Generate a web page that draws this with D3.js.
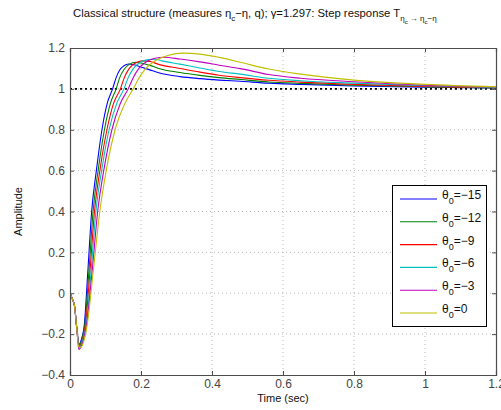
<!DOCTYPE html>
<html><head><meta charset="utf-8">
<script src="https://cdn.jsdelivr.net/npm/d3@7"></script>
<style>
body{margin:0;background:#fff;}
text{font-family:"Liberation Sans",Arial,sans-serif;}
</style></head>
<body><svg id="c" width="501" height="410"></svg>
<script>
// ---- data ----
const seriesLabels = ["-15","-12","-9","-6","-3","0"];
const seriesColors = ["#0000ff","#008000","#ff0000","#00bfbf","#bf00bf","#bfbf00"];
const xTicks = [0,0.2,0.4,0.6,0.8,1,1.2];
const yTicks = [-0.4,-0.2,0,0.2,0.4,0.6,0.8,1,1.2];
const startPts = [[0,0],[0.006,-0.025],[0.013,-0.065],[0.019,-0.17]];
const theta15 = [[0.026,-0.25],[0.033,-0.22],[0.04,-0.16],[0.05,0.10],[0.061,0.40],[0.075,0.61],[0.09,0.80],[0.105,0.93],[0.12,1.0],[0.13,1.055],[0.14,1.092],[0.152,1.113],[0.165,1.122],[0.18,1.118],[0.2,1.107],[0.225,1.093],[0.25,1.079],[0.31,1.06],[0.366,1.05],[0.42,1.043],[0.48,1.037],[0.56,1.028],[0.65,1.022],[0.8,1.014],[1.0,1.008],[1.2,1.004]];
const theta12 = [[0.026,-0.26],[0.034,-0.22],[0.042,-0.15],[0.053,0.10],[0.065,0.40],[0.08,0.61],[0.097,0.80],[0.114,0.93],[0.13,1.0],[0.14,1.055],[0.152,1.095],[0.167,1.12],[0.185,1.13],[0.2,1.127],[0.225,1.115],[0.25,1.10],[0.31,1.08],[0.366,1.066],[0.42,1.055],[0.48,1.046],[0.56,1.034],[0.65,1.027],[0.8,1.018],[1.0,1.01],[1.2,1.005]];
const theta9 = [[0.026,-0.265],[0.035,-0.23],[0.044,-0.15],[0.056,0.10],[0.069,0.40],[0.085,0.61],[0.104,0.80],[0.123,0.93],[0.142,1.0],[0.153,1.055],[0.166,1.098],[0.183,1.125],[0.205,1.137],[0.225,1.134],[0.25,1.12],[0.31,1.10],[0.366,1.082],[0.42,1.067],[0.48,1.055],[0.56,1.042],[0.65,1.033],[0.8,1.022],[1.0,1.012],[1.2,1.006]];
const theta6 = [[0.026,-0.27],[0.036,-0.23],[0.046,-0.15],[0.059,0.10],[0.073,0.40],[0.09,0.61],[0.11,0.80],[0.132,0.93],[0.152,1.0],[0.164,1.055],[0.178,1.098],[0.198,1.13],[0.22,1.143],[0.24,1.145],[0.26,1.137],[0.31,1.121],[0.366,1.102],[0.42,1.085],[0.48,1.072],[0.56,1.052],[0.65,1.04],[0.8,1.028],[1.0,1.015],[1.2,1.007]];
const theta3 = [[0.025,-0.275],[0.036,-0.24],[0.047,-0.15],[0.062,0.10],[0.078,0.40],[0.096,0.61],[0.118,0.80],[0.142,0.93],[0.164,1.0],[0.178,1.055],[0.193,1.098],[0.215,1.133],[0.24,1.15],[0.265,1.155],[0.31,1.146],[0.366,1.132],[0.42,1.116],[0.48,1.099],[0.56,1.07],[0.65,1.052],[0.8,1.035],[1.0,1.018],[1.2,1.009]];
const theta0 = [[0.024,-0.26],[0.03,-0.265],[0.037,-0.245],[0.048,-0.16],[0.065,0.10],[0.084,0.40],[0.103,0.61],[0.127,0.80],[0.155,0.93],[0.178,1.0],[0.195,1.055],[0.212,1.097],[0.24,1.138],[0.275,1.163],[0.32,1.175],[0.366,1.17],[0.42,1.154],[0.48,1.13],[0.56,1.097],[0.65,1.072],[0.8,1.043],[1.0,1.022],[1.2,1.01]];
const seriesData = [theta15,theta12,theta9,theta6,theta3,theta0];
const refLevel = 1;

// ---- layout ----
const L=70, R=496, T=48, B=375;
const svg=d3.select("#c");
const x=d3.scaleLinear().domain([0,1.2]).range([L,R]);
const y=d3.scaleLinear().domain([-0.4,1.2]).range([B,T]);
const axisCol="#4d4d4d";

// grid
const g=svg.append("g");
g.selectAll(".vg").data(xTicks.slice(1,-1)).join("line")
 .attr("x1",d=>x(d)).attr("x2",d=>x(d)).attr("y1",T).attr("y2",B)
 .attr("stroke","#9a9a9a").attr("stroke-width",0.7).attr("stroke-dasharray","1,3");
g.selectAll(".hg").data(yTicks.slice(1,-1)).join("line")
 .attr("y1",d=>y(d)).attr("y2",d=>y(d)).attr("x1",L).attr("x2",R)
 .attr("stroke","#9a9a9a").attr("stroke-width",0.7).attr("stroke-dasharray","1,3");

svg.append("clipPath").attr("id","clip").append("rect").attr("x",L).attr("y",T).attr("width",R-L).attr("height",B-T);

// reference line
svg.append("line").attr("x1",x(0)).attr("x2",x(1.2)).attr("y1",y(refLevel)).attr("y2",y(refLevel))
 .attr("stroke","#000").attr("stroke-width",1.6).attr("stroke-dasharray","2,3");

// curves
const line=d3.line().x(d=>x(d[0])).y(d=>y(d[1])).curve(d3.curveMonotoneX);
const cg=svg.append("g").attr("clip-path","url(#clip)");
seriesData.forEach((s,i)=>{
  cg.append("path").attr("d",line(startPts.concat(s))).attr("fill","none")
    .attr("stroke",seriesColors[i]).attr("stroke-width",1.1);
});

// axes
const ax=svg.append("g");
ax.append("g").attr("transform",`translate(0,${B})`)
 .call(d3.axisBottom(x).tickValues(xTicks).tickSize(-4).tickPadding(4).tickFormat(d3.format("~g")));
ax.append("g").attr("transform",`translate(0,${T})`)
 .call(d3.axisTop(x).tickValues(xTicks).tickSize(-4).tickFormat(""));
ax.append("g").attr("transform",`translate(${L},0)`)
 .call(d3.axisLeft(y).tickValues(yTicks).tickSize(-4).tickPadding(5).tickFormat(d=>d3.format("~g")(d).replace("-","\u2212")));
ax.append("g").attr("transform",`translate(${R},0)`)
 .call(d3.axisRight(y).tickValues(yTicks).tickSize(-4).tickFormat(""));
ax.selectAll(".domain").attr("stroke",axisCol).attr("stroke-width",1.2);
ax.selectAll(".tick line").attr("stroke",axisCol);
ax.selectAll(".tick text").attr("fill","#444").attr("font-size",12).attr("font-family","Liberation Sans, Arial, sans-serif");

// labels
svg.append("text").attr("x",(L+R)/2).attr("y",402).attr("text-anchor","middle").attr("font-size",11).attr("fill","#111").text("Time (sec)");
svg.append("text").attr("transform",`translate(22,${(T+B)/2}) rotate(-90)`).attr("text-anchor","middle").attr("font-size",11).attr("fill","#111").text("Amplitude");

// title
const tt=svg.append("text").attr("x",73).attr("y",17).attr("font-size",11.3).attr("fill","#111");
tt.append("tspan").text("Classical structure (measures \u03b7");
tt.append("tspan").attr("font-size",8).attr("dy",4).text("c");
tt.append("tspan").attr("dy",-4).text("\u2212\u03b7, q); \u03b3=1.297: Step response T");
tt.append("tspan").attr("font-size",8).attr("dy",4).text("\u03b7");
tt.append("tspan").attr("font-size",6).attr("dy",3).text("c");
tt.append("tspan").attr("font-size",8).attr("dy",-3).text(" \u2192 \u03b7");
tt.append("tspan").attr("font-size",6).attr("dy",3).text("c");
tt.append("tspan").attr("font-size",8).attr("dy",-3).text("\u2212\u03b7");

// legend
const lg=svg.append("g");
lg.append("rect").attr("x",392.5).attr("y",185.5).attr("width",94).attr("height",141)
 .attr("fill","#fff").attr("stroke","#000").attr("stroke-width",1);
seriesLabels.forEach((lab,i)=>{
  const yy=199+i*22.8;
  lg.append("line").attr("x1",400).attr("x2",437).attr("y1",yy).attr("y2",yy).attr("stroke",seriesColors[i]).attr("stroke-width",1.1);
  const t=lg.append("text").attr("x",442).attr("y",yy).attr("font-size",12).attr("fill","#111");
  t.append("tspan").text("\u03b8");
  t.append("tspan").attr("font-size",9).attr("dy",5).text("0");
  t.append("tspan").attr("dy",-5).text("="+lab.replace("-","\u2212"));
});
</script></body></html>
